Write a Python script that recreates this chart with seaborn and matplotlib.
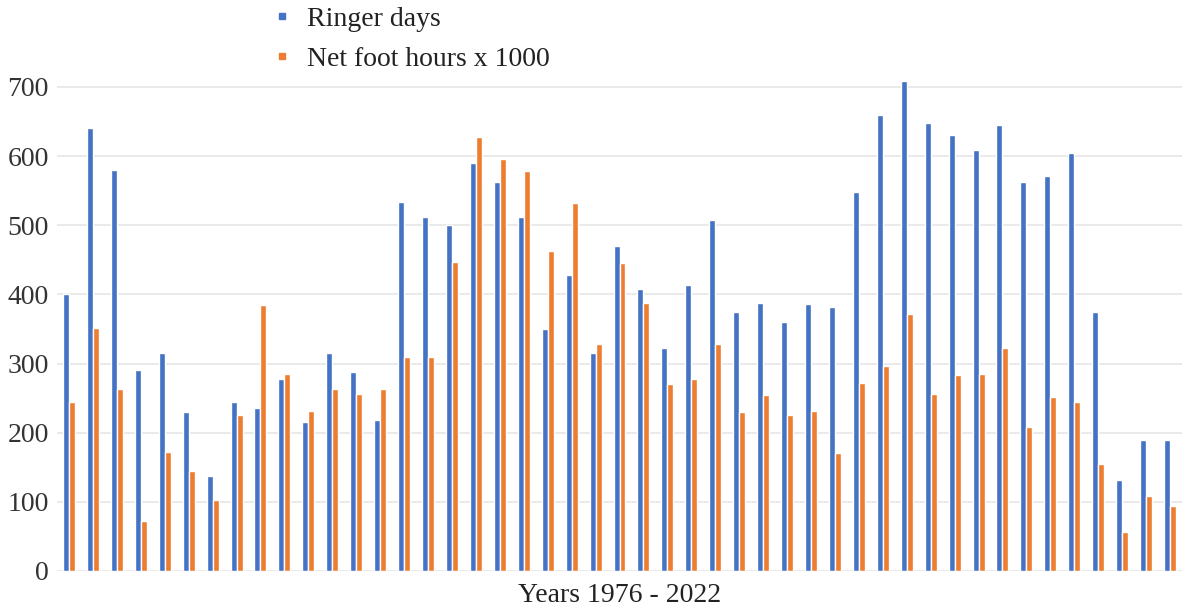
import pandas as pd
import seaborn as sns
import matplotlib.pyplot as plt
from matplotlib.lines import Line2D

# Values, one pair per year 1976 - 2022
years = list(range(1976, 2023))
ringer_days = [400, 640, 580, 290, 315, 230, 137, 245, 235, 278,
               215, 315, 288, 218, 533, 512, 500, 590, 562, 512,
               350, 428, 315, 470, 407, 323, 413, 508, 375, 388,
               360, 386, 382, 548, 660, 708, 648, 631, 609, 645,
               563, 571, 605, 375, 132, 189, 189]
foot_hours = [245, 352, 263, 73, 172, 145, 102, 225, 385, 285,
              232, 263, 256, 263, 310, 310, 447, 628, 596, 578,
              463, 532, 328, 445, 388, 270, 278, 328, 230, 255,
              226, 232, 170, 272, 296, 372, 256, 284, 285, 322,
              208, 252, 245, 155, 57, 108, 94]
series_names = ["Ringer days", "Net foot hours x 1000"]
colors = ["#4472C4", "#ED7D31"]

df = pd.DataFrame({
    "year": years * 2,
    "value": ringer_days + foot_hours,
    "series": [series_names[0]] * len(years) + [series_names[1]] * len(years),
})

sns.set_theme(style="white")
plt.rcParams['font.family'] = ['Liberation Serif', 'DejaVu Serif']

fig = plt.figure(figsize=(11.86, 6.08), dpi=100)
# 0 at y=571 px, 700 at y=87 px; leave a little headroom for the 708 bar
ax = fig.add_axes([57 / 1186, 37 / 608, 1125 / 1186, 498 / 608])

sns.barplot(data=df, x="year", y="value", hue="series", palette=colors,
            width=0.5, ax=ax, saturation=1, legend=False)

ax.set_ylim(0, 720)
ax.set_yticks(range(0, 701, 100))
ax.tick_params(axis='y', labelsize=20, colors='#333333', length=0, pad=6)
ax.set_xticks([])
ax.set_xlabel("Years 1976 - 2022", fontsize=20, color='#222222', labelpad=9)
ax.set_ylabel("")
ax.grid(True, axis='y', color='#e6e6e6', linewidth=1.2)
ax.set_axisbelow(True)
for s in ax.spines.values():
    s.set_visible(False)

handles = [Line2D([], [], marker='s', linestyle='', color=c, markersize=5)
           for c in colors]
fig.legend(handles, series_names, loc='upper left',
           bbox_to_anchor=(246 / 1186, 1.03), frameon=False,
           fontsize=20, handletextpad=0.5, labelspacing=0.5,
           handlelength=0.8, labelcolor='#222222')

fig.savefig("out.png", dpi=100)
